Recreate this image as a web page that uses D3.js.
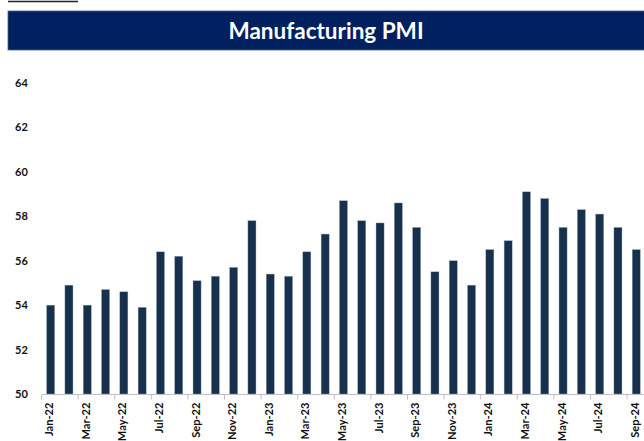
<!DOCTYPE html>
<html><head><meta charset="utf-8">
<script src="https://cdn.jsdelivr.net/npm/d3@7"></script>
<style>
html,body{margin:0;padding:0;background:#fff;overflow:hidden;}
svg{display:block;}
</style></head>
<body>
<svg id="c" width="644" height="441"></svg>
<script>
const title = "Manufacturing PMI";
const months = ["Jan-22","Feb-22","Mar-22","Apr-22","May-22","Jun-22","Jul-22","Aug-22","Sep-22","Oct-22","Nov-22","Dec-22",
"Jan-23","Feb-23","Mar-23","Apr-23","May-23","Jun-23","Jul-23","Aug-23","Sep-23","Oct-23","Nov-23","Dec-23",
"Jan-24","Feb-24","Mar-24","Apr-24","May-24","Jun-24","Jul-24","Aug-24","Sep-24"];
const pmi = [54.0,54.9,54.0,54.7,54.6,53.9,56.4,56.2,55.1,55.3,55.7,57.8,
55.4,55.3,56.4,57.2,58.7,57.8,57.7,58.6,57.5,55.5,56.0,54.9,
56.5,56.9,59.1,58.8,57.5,58.3,58.1,57.5,56.5];
const yTicks = [50,52,54,56,58,60,62,64];

const svg = d3.select("#c");
const font = "Lato, 'Open Sans', sans-serif";

// top-left underline remnant
svg.append("line").attr("x1",8).attr("x2",78).attr("y1",1.5).attr("y2",1.5)
  .attr("stroke","#222").attr("stroke-width",1.5);

// title bar
svg.append("rect").attr("x",8).attr("y",11).attr("width",640).attr("height",39)
  .attr("fill","#002060").attr("stroke","#4a5f8a").attr("stroke-width",0.8);
svg.append("text").attr("x",326).attr("y",39).attr("text-anchor","middle")
  .attr("font-family",font).attr("font-weight","bold").attr("font-size",22.5)
  .attr("fill","#fff").text(title);

const x = d3.scaleBand().domain(months).range([41.5, 41.5 + 18.3*months.length]).paddingInner(0.56).paddingOuter(0.28);
const y = d3.scaleLinear().domain([50,64]).range([394,83]);

// bars
svg.append("g").selectAll("rect").data(months).join("rect")
  .attr("x", d => x(d)).attr("width", x.bandwidth())
  .attr("y", (d,i) => y(pmi[i])).attr("height", (d,i) => y(50) - y(pmi[i]))
  .attr("fill","#17314d").attr("stroke","#9aa9bb").attr("stroke-width",0.4);

// y labels
svg.append("g").selectAll("text").data(yTicks).join("text")
  .attr("x",15).attr("y", d => y(d) + 4)
  .attr("font-family",font).attr("font-weight","bold").attr("font-size",11)
  .attr("fill","#111").text(d => d);

// x axis
const step = 18.3;
const x0 = 41.5;
svg.append("line").attr("x1",x0).attr("x2",650).attr("y1",394.5).attr("y2",394.5)
  .attr("stroke","#bfbfbf").attr("stroke-width",1);
const tickIdx = d3.range(0, months.length+1, 2);
svg.append("g").selectAll("line").data(tickIdx).join("line")
  .attr("x1", i => x0 + i*step).attr("x2", i => x0 + i*step)
  .attr("y1",394.5).attr("y2",399.5).attr("stroke","#bfbfbf");
const labelled = months.filter((m,i) => i % 2 === 0);
svg.append("g").selectAll("text").data(labelled).join("text")
  .attr("transform", d => `translate(${x(d) + x.bandwidth()/2 + 2.5},402.5) rotate(-90)`)
  .attr("text-anchor","end")
  .attr("font-family",font).attr("font-weight","bold").attr("font-size",11.1)
  .attr("fill","#111").text(d => d);
</script>
</body></html>
